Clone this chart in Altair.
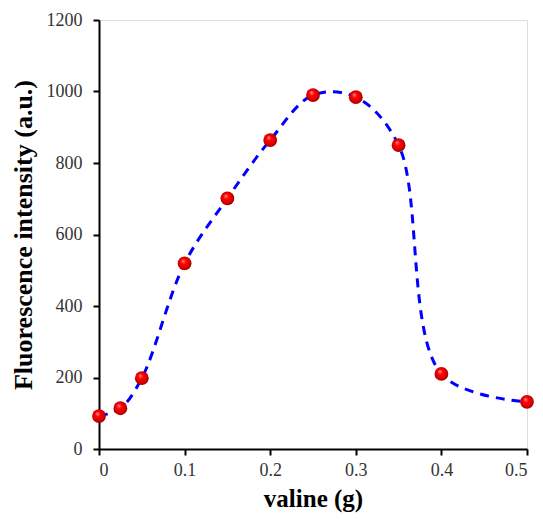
import altair as alt
import pandas as pd

valine_g = [0, 0.025, 0.05, 0.1, 0.15, 0.2, 0.25, 0.3, 0.35, 0.4, 0.5]
intensity = [92, 114, 198, 519, 701, 864, 990, 984, 850, 210, 132]

x_ticks = [0, 0.1, 0.2, 0.3, 0.4, 0.5]
y_ticks = [0, 200, 400, 600, 800, 1000, 1200]

df = pd.DataFrame({"valine": valine_g, "intensity": intensity})

FONT = "Liberation Serif"

x_enc = alt.X("valine:Q", scale=alt.Scale(domain=[0, 0.5], nice=False, zero=False),
              axis=alt.Axis(values=x_ticks, title="valine (g)", format="~g",
                            grid=False, domain=True, domainColor="black", domainWidth=2,
                            tickColor="black", tickWidth=2, tickSize=6,
                            labelFont=FONT, labelFontSize=18, labelColor="#333",
                            labelPadding=6, titleFont=FONT, titleFontSize=25,
                            titleFontWeight="bold", titlePadding=7, titleColor="black"))
y_enc = alt.Y("intensity:Q", scale=alt.Scale(domain=[0, 1200], nice=False),
              axis=alt.Axis(values=y_ticks, title="Fluorescence intensity (a.u.)", format="d",
                            grid=False, domain=True, domainColor="black", domainWidth=2,
                            tickColor="black", tickWidth=2, tickSize=6,
                            labelFont=FONT, labelFontSize=18, labelColor="#333",
                            labelPadding=11, titleFont=FONT, titleFontSize=26,
                            titleFontWeight="bold", titlePadding=10, titleColor="black"))

line = alt.Chart(df).mark_line(
    interpolate="catmull-rom", color="#0000ff", strokeWidth=3, strokeDash=[9, 7]
).encode(x=x_enc, y=y_enc)

grad = alt.Gradient(
    gradient="radial", x1=0.38, y1=0.3, r1=0.0, x2=0.5, y2=0.5, r2=0.55,
    stops=[alt.GradientStop(color="#ff9a9a", offset=0),
           alt.GradientStop(color="#ff0000", offset=0.35),
           alt.GradientStop(color="#e00000", offset=0.7),
           alt.GradientStop(color="#800000", offset=1)])

points = alt.Chart(df).mark_circle(size=190, opacity=1, fill=grad).encode(x="valine:Q", y="intensity:Q")

chart = alt.layer(line, points).properties(
    width=428, height=429,
    autosize=alt.AutoSizeParams(type="none"),
    padding={"left": 91, "top": 12, "right": 8, "bottom": 68},
).configure_view(stroke="black", strokeWidth=2).configure(background="white")

chart.save("out.html", embed_options={"renderer": "svg", "actions": False})
